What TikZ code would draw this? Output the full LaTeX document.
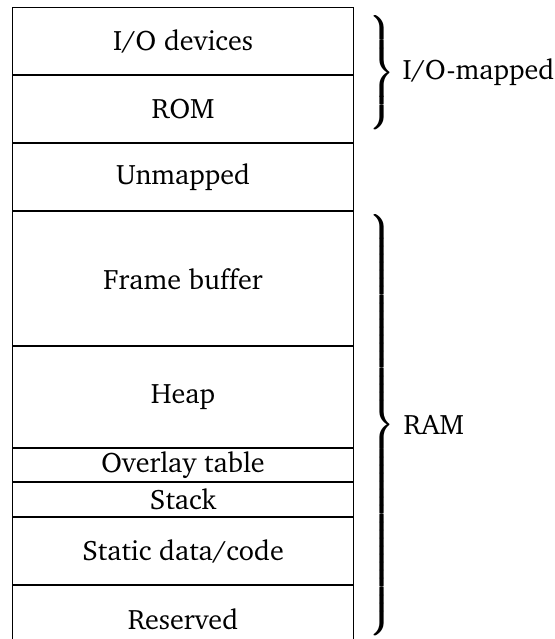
\RequirePackage{fix-cm}
\documentclass[tikz,border=0pt]{standalone}
\usepackage[T1]{fontenc}
\usepackage{charter}
\usepackage{amsmath}

% one unit of height in the memory map
\newlength{\rowunit}
\setlength{\rowunit}{12.384pt}

% a right brace of total height 2*#1, set twice side by side for a heavier stroke
\newcommand{\heavybrace}[1]{%
  \rlap{$\nulldelimiterspace=0pt\left.\vrule height #1 depth #1 width 0pt\right\}$}%
  \hspace{0.45pt}%
  $\nulldelimiterspace=0pt\left.\vrule height #1 depth #1 width 0pt\right\}$}

\tikzset{
  region/.style={draw, inner sep=0pt, minimum width=126.17pt,
    minimum height=#1\rowunit, anchor=north west, align=center},
  bracenode/.style={inner sep=0pt, anchor=west},
  grouplabel/.style={inner sep=0pt, anchor=west},
}

\begin{document}
\begin{tikzpicture}[x=0.37pt, y=-0.37pt, font=\fontsize{10.4}{12.5}\selectfont]
  \useasboundingbox (0,0) rectangle (554,639);

  % memory regions, top to bottom
  \node[region=2] (io)       at (12,7.3)             {I/O devices};
  \node[region=2] (rom)      at (io.south west)      {ROM};
  \node[region=2] (unmap)    at (rom.south west)     {Unmapped};
  \node[region=4] (frame)    at (unmap.south west)   {Frame buffer};
  \node[region=3] (heap)     at (frame.south west)   {Heap};
  \node[region=1] (overlay)  at (heap.south west)    {Overlay table};
  \node[region=1] (stack)    at (overlay.south west) {Stack};
  \node[region=2] (static)   at (stack.south west)   {Static data/code};
  \node[region=2] (reserved) at (static.south west)  {Reserved};

  % grouping braces with their labels
  \node[bracenode] (iobrace) at (368.5,75.5) {\heavybrace{20.5pt}};
  \node[grouplabel] (iolabel) at (402,72) {I/O-mapped};

  \node[bracenode] (rambrace) at (368.5,427) {\heavybrace{77pt}};
  \node[grouplabel] (ramlabel) at (403,425) {RAM};
\end{tikzpicture}
\end{document}
